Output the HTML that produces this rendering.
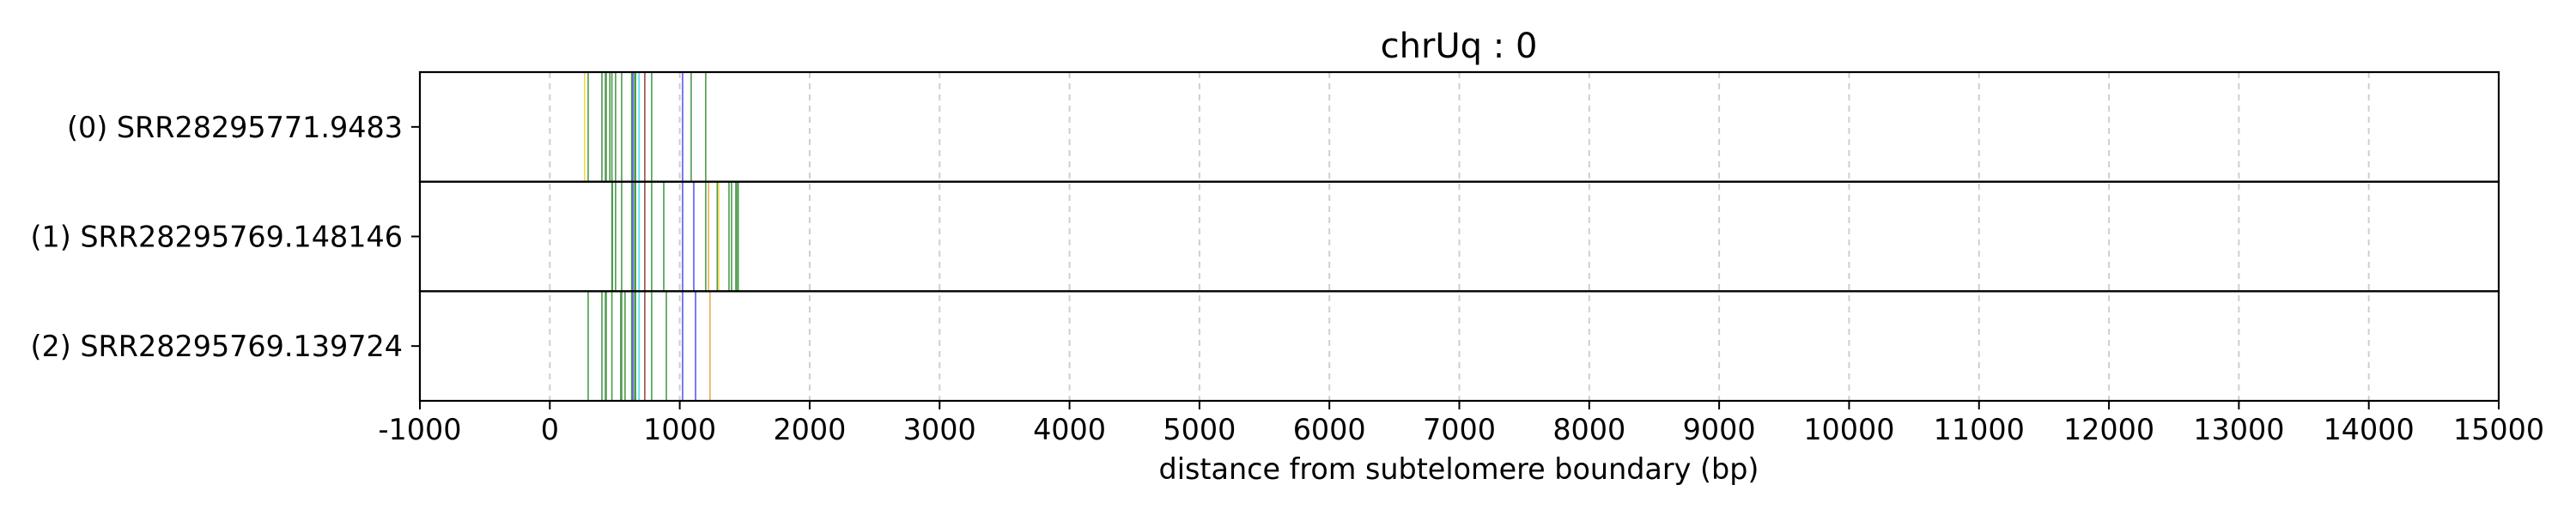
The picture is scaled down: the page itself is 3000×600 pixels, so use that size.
<!DOCTYPE html>
<html><head><meta charset="utf-8"><style>
html,body{margin:0;padding:0;background:#fff;}
svg{display:block;font-family:"DejaVu Sans","Liberation Sans",sans-serif;}
</style></head><body>
<svg id="chart" width="3000" height="600" viewBox="0 0 3000 600">
<text x="1699" y="67" font-size="40" text-anchor="middle">chrUq : 0</text>
<g id="grid"></g><g id="marks"></g><g id="frame"></g><g id="axes"></g>
<text x="1699" y="558" font-size="33.4" text-anchor="middle">distance from subtelomere boundary (bp)</text>
</svg>
<script>
const rowLabels = ["(0) SRR28295771.9483","(1) SRR28295769.148146","(2) SRR28295769.139724"];
const xTicks = [-1000,0,1000,2000,3000,4000,5000,6000,7000,8000,9000,10000,11000,12000,13000,14000,15000];
const row0Pos = [268,295,401,428,434,462,478,506,553,630,639,653,660,687,731,784,1022,1088,1200];
const row0Col = ["y","g","g","g","g","g","g","g","g","g","b","g","g","c","r","g","b","g","g"];
const row1Pos = [478,482,506,553,630,639,653,660,687,731,784,877,1022,1108,1200,1222,1289,1300,1379,1399,1432,1438,1450];
const row1Col = ["g","g","g","g","g","b","g","g","c","r","g","g","b","b","g","o","g","y","g","g","g","g","g"];
const row2Pos = [295,401,428,434,478,546,553,579,630,639,653,660,687,731,784,897,1022,1122,1233];
const row2Col = ["g","g","g","g","g","g","g","g","g","b","g","g","c","r","g","g","b","b","o"];
const rows=[[row0Pos,row0Col],[row1Pos,row1Col],[row2Pos,row2Col]];
const colors={g:"#4c9a4c",y:"#f2d84a",b:"#5a5af0",c:"#4ae0ec",r:"#9a4a4a",o:"#f2aa55"};
const L=489,R=2910,T=84,B=467,xMin=-1000,xMax=15000;
const xs=v=>L+(v-xMin)/(xMax-xMin)*(R-L);
const rowH=(B-T)/rows.length;
const NS="http://www.w3.org/2000/svg";
function mk(tag,attrs,parent){const e=document.createElementNS(NS,tag);for(const k in attrs)e.setAttribute(k,attrs[k]);document.getElementById(parent).appendChild(e);return e;}
xTicks.forEach(t=>{
  const x=xs(t);
  const g=mk("line",{x1:x,x2:x,y1:T,y2:B,stroke:"#cfcfcf","stroke-width":2,"stroke-dasharray":"7,6"},"grid");
  
  
  const tk=mk("line",{x1:x,x2:x,y1:B,y2:B+10,stroke:"#000","stroke-width":2},"axes");
  
  
  const tl=mk("text",{x:x,y:B+45,"font-size":33.4,"text-anchor":"middle"},"axes");
  tl.textContent=t;
  
  
});
rows.forEach((r,i)=>{
  const y0=T+i*rowH,y1=y0+rowH;
  r[0].forEach((v,j)=>{
    const x=xs(v);
    const m=mk("line",{x1:x,x2:x,y1:y0,y2:y1,stroke:colors[r[1][j]],"stroke-width":1.6},"marks");
    
    
  });
  const cy=(y0+y1)/2;
  const tk=mk("line",{x1:L-10,x2:L,y1:cy,y2:cy,stroke:"#000","stroke-width":2},"axes");
  
  
  const lb=mk("text",{x:L-20,y:cy+12,"font-size":33.4,"text-anchor":"end"},"axes");
  lb.textContent=rowLabels[i];
  
  
  const fr=mk("rect",{x:L,y:y0,width:R-L,height:rowH,fill:"none",stroke:"#000","stroke-width":2.2},"frame");
  
  
});
</script>
</body></html>
